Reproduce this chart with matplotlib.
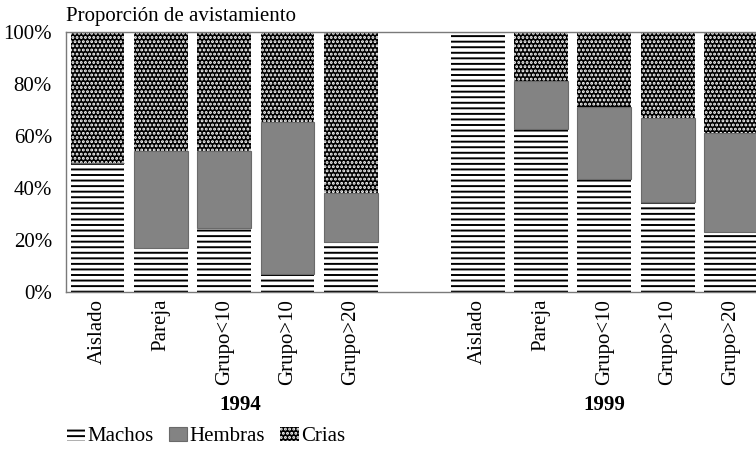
import matplotlib
matplotlib.use("Agg")
import matplotlib.pyplot as plt
import numpy as np
from matplotlib.patches import Patch

# Data (percent of sightings)
categorias = ["Aislado", "Pareja", "Grupo<10", "Grupo>10", "Grupo>20"]
anios = ["1994", "1999"]

machos_1994 = [49.5, 17, 24.5, 7, 19]
hembras_1994 = [0, 37, 29.5, 58.5, 19]
crias_1994 = [50.5, 46, 46, 34.5, 62]

machos_1999 = [100, 62.5, 43.5, 34.5, 23]
hembras_1999 = [0, 18.5, 27.5, 32.5, 38]
crias_1999 = [0, 19, 29, 33, 39]

plt.rcParams["font.family"] = ["Liberation Serif", "DejaVu Serif"]
plt.rcParams["hatch.linewidth"] = 1.4

fs = 15
gris = "#838383"

fig = plt.figure(figsize=(7.56, 4.49), dpi=100)
ax = fig.add_axes([0.087, 0.35, 0.922, 0.579])

# positions: 5 bars, one empty slot, 5 bars
n = len(categorias)
x94 = np.arange(n)
x99 = np.arange(n) + n + 1
w = 0.85

for xs, m, h, c in [(x94, machos_1994, hembras_1994, crias_1994),
                    (x99, machos_1999, hembras_1999, crias_1999)]:
    m = np.array(m) / 100
    h = np.array(h) / 100
    c = np.array(c) / 100
    ax.bar(xs, m, w, color="white", edgecolor="black", linewidth=0, hatch="---")
    ax.bar(xs, h, w, bottom=m, color=gris, edgecolor="#6a6a6a", linewidth=0.8)
    ax.bar(xs, c, w, bottom=m + h, color="black", edgecolor="white",
           linewidth=0, hatch="....")

ax.set_xlim(-0.5, 2 * n + 0.5)
ax.set_ylim(0, 1)
ax.set_yticks(np.arange(0, 1.01, 0.2))
ax.set_yticklabels([f"{int(round(v * 100))}%" for v in np.arange(0, 1.01, 0.2)],
                   fontsize=fs)
ax.set_xticks(list(x94) + list(x99))
ax.set_xticklabels(categorias + categorias, rotation=90, fontsize=fs)
ax.tick_params(length=0)
ax.tick_params(axis="y", pad=10)
ax.tick_params(axis="x", pad=5)
for s in ax.spines.values():
    s.set_color("#7a7a7a")
    s.set_linewidth(1.0)

ax.set_title("Proporción de avistamiento", loc="left", fontsize=fs, pad=8)

# year labels under each group
ax.text(x94.mean() + 0.25, -0.435, anios[0], transform=ax.get_xaxis_transform(),
        ha="center", va="center", fontsize=fs, fontweight="bold")
ax.text(x99.mean(), -0.435, anios[1], transform=ax.get_xaxis_transform(),
        ha="center", va="center", fontsize=fs, fontweight="bold")

handles = [
    Patch(facecolor="white", edgecolor="black", linewidth=0, hatch="---", label="Machos"),
    Patch(facecolor=gris, edgecolor="#6a6a6a", linewidth=0.8, label="Hembras"),
    Patch(facecolor="black", edgecolor="white", linewidth=0, hatch="....", label="Crias"),
]
fig.legend(handles=handles, loc="center left", bbox_to_anchor=(0.088, 0.027),
           ncol=3, frameon=False, fontsize=fs, handlelength=0.9, handleheight=0.6,
           handletextpad=0.12, columnspacing=0.7, borderaxespad=0, borderpad=0)

fig.savefig("out.png", dpi=100)
